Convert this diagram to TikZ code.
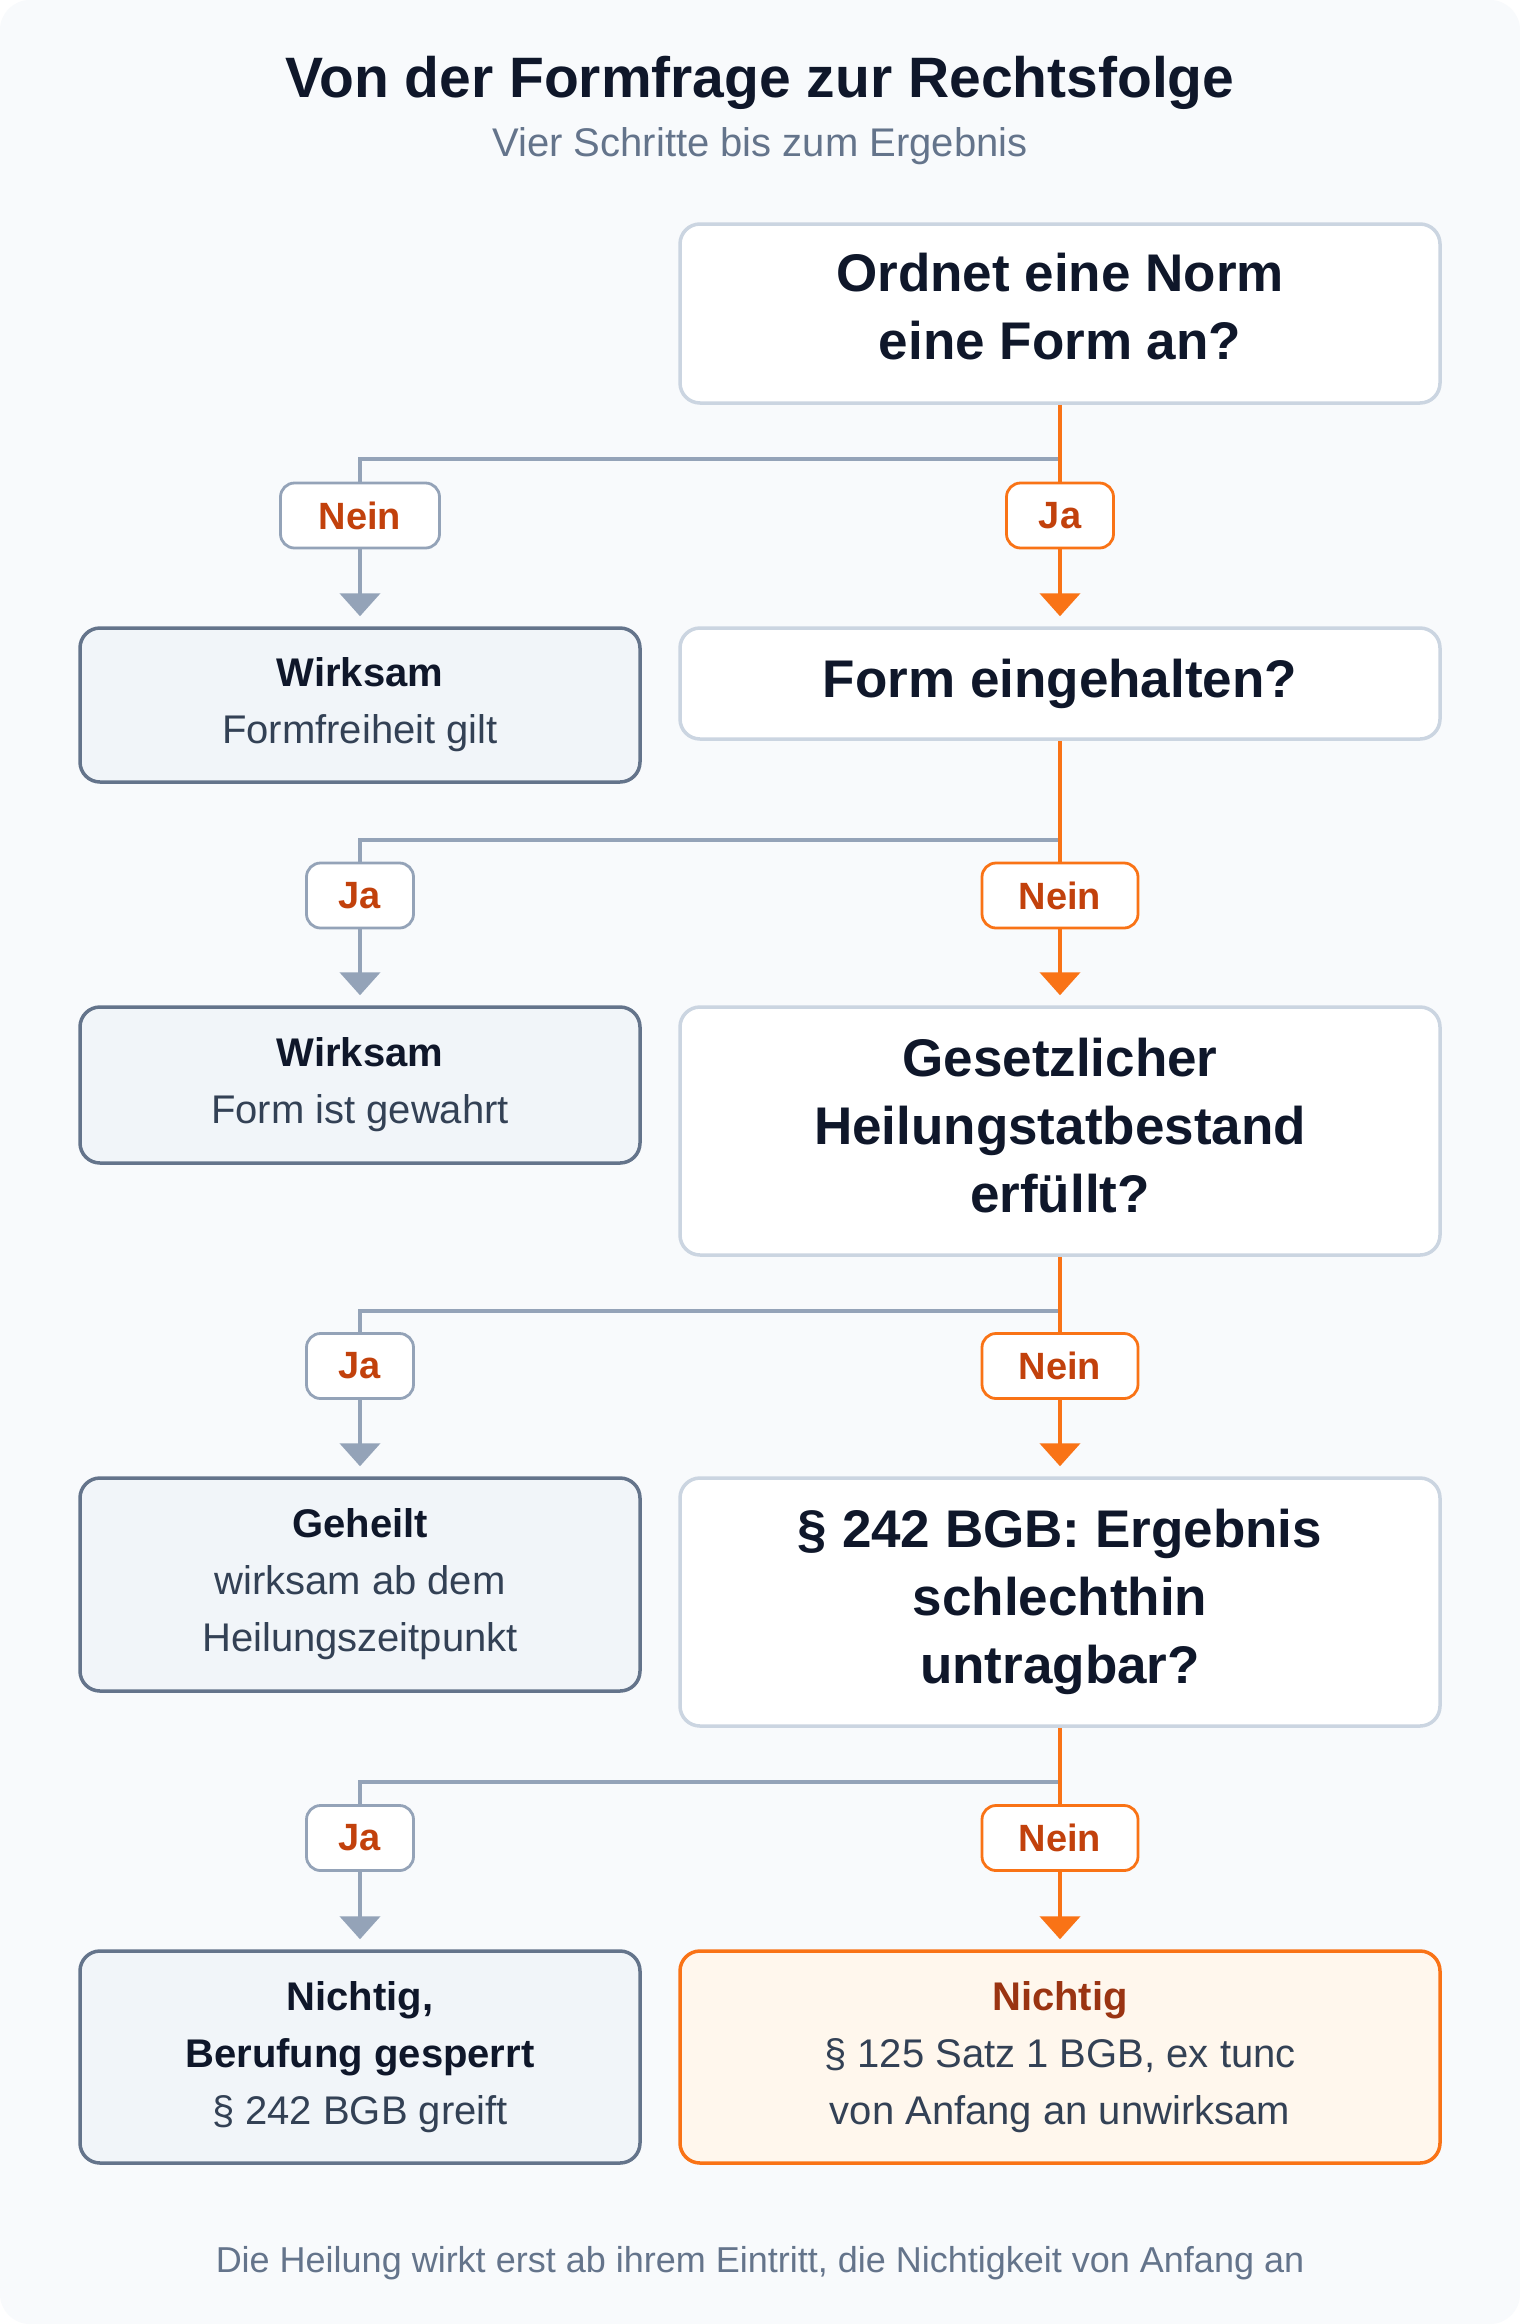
\documentclass[tikz,border=0pt]{standalone}
\usepackage{fontspec}
\setmainfont{Liberation Sans}
\usetikzlibrary{arrows.meta,calc}
\definecolor{bgc}{HTML}{F8FAFC}
\definecolor{ink}{HTML}{0F172A}
\definecolor{subc}{HTML}{334155}
\definecolor{mutec}{HTML}{64748B}
\definecolor{grayln}{HTML}{94A3B8}
\definecolor{orln}{HTML}{F97316}
\definecolor{lbltxt}{HTML}{C2410C}
\definecolor{qborder}{HTML}{CBD5E1}
\definecolor{rfill}{HTML}{F1F5F9}
\definecolor{rborder}{HTML}{64748B}
\definecolor{ofill}{HTML}{FFF7ED}
\definecolor{otitle}{HTML}{9A3412}
\newcommand{\liftq}[2]{\raisebox{#1}[\height][\depth]{\begin{tabular}{@{}c@{}}#2\end{tabular}}}
\tikzset{
  qbox/.style={draw=qborder, fill=white, line width=3.5pt, rounded corners=20pt,
    minimum width=760pt, align=center, text=ink,
    font=\fontsize{53}{68}\selectfont\bfseries, inner sep=0pt},
  rbox/.style={draw=rborder, fill=rfill, line width=3.5pt, rounded corners=20pt,
    minimum width=560pt, align=center, text=ink,
    font=\fontsize{40}{57}\selectfont, inner sep=0pt},
  obox/.style={draw=orln, fill=ofill, line width=3.5pt, rounded corners=20pt,
    minimum width=760pt, align=center, text=subc,
    font=\fontsize{40}{57}\selectfont, inner sep=0pt},
  lblg/.style={draw=grayln, fill=white, line width=2.8pt, rounded corners=14pt,
    minimum height=65pt, inner sep=0pt, text=lbltxt,
    font=\fontsize{38}{46}\selectfont\bfseries},
  lblo/.style={lblg, draw=orln},
  grayflow/.style={draw=grayln, line width=4.5pt, -{Triangle[width=40pt,length=23pt]}, shorten >=10pt},
  orflow/.style={draw=orln, line width=4.5pt, -{Triangle[width=40pt,length=23pt]}, shorten >=10pt},
}
\begin{document}
\begin{tikzpicture}[x=1pt,y=-1pt]
\fill[white] (0,0) rectangle (1520,2324);
\fill[bgc, rounded corners=30pt] (0,0) rectangle (1520,2324);
\useasboundingbox (0,0) rectangle (1520,2324);

% titles
\node[text=ink, font=\fontsize{57}{68}\selectfont\bfseries] (title) at (760,83) {Von der Formfrage zur Rechtsfolge};
\node[text=mutec, font=\fontsize{40}{48}\selectfont] (subtitle) at (760,146) {Vier Schritte bis zum Ergebnis};

% question boxes
\node[qbox, minimum height=179pt] (q1) at (1060,313.5) {\liftq{1.5pt}{Ordnet eine Norm\\eine Form an?}};
\node[qbox, minimum height=111pt] (q2) at (1060,683.5) {Form eingehalten?};
\node[qbox, minimum height=248pt] (q3) at (1060,1131) {\liftq{0pt}{Gesetzlicher\\Heilungstatbestand\\erfüllt?}};
\node[qbox, minimum height=248pt] (q4) at (1060,1602) {§ 242 BGB: Ergebnis\\schlechthin\\untragbar?};

% result boxes
\node[rbox, minimum height=154pt] (w1) at (360,705) {\textbf{Wirksam}\\\textcolor{subc}{Formfreiheit gilt}};
\node[rbox, minimum height=156pt] (w2) at (360,1085) {\textbf{Wirksam}\\\textcolor{subc}{Form ist gewahrt}};
\node[rbox, minimum height=213pt] (g) at (360,1584.5) {\textbf{Geheilt}\\\textcolor{subc}{wirksam ab dem}\\\textcolor{subc}{Heilungszeitpunkt}};
\node[rbox, minimum height=212pt] (n1) at (360,2057) {\textbf{Nichtig,}\\\textbf{Berufung gesperrt}\\\textcolor{subc}{§ 242 BGB greift}};
\node[obox, minimum height=212pt] (n2) at (1060,2057) {\textcolor{otitle}{\textbf{Nichtig}}\\§ 125 Satz 1 BGB, ex tunc\\von Anfang an unwirksam};

% branch points
\coordinate (b1) at (1060,459);
\coordinate (b2) at (1060,840);
\coordinate (b3) at (1060,1311);
\coordinate (b4) at (1060,1782);

% gray branches
\draw[grayflow] (b1) -| (w1.north);
\draw[grayflow] (b2) -| (w2.north);
\draw[grayflow] (b3) -| (g.north);
\draw[grayflow] (b4) -| (n1.north);

% orange main path
\draw[orflow] (q1.south) -- (q2.north);
\draw[orflow] (q2.south) -- (q3.north);
\draw[orflow] (q3.south) -- (q4.north);
\draw[orflow] (q4.south) -- (n2.north);

% labels
\node[lblg, minimum width=159pt] (l1n) at (360,515.5) {Nein};
\node[lblo, minimum width=107pt] (l1j) at (1060,515.5) {Ja};
\node[lblg, minimum width=107pt] (l2j) at (360,895.5) {Ja};
\node[lblo, minimum width=156pt] (l2n) at (1060,895.5) {Nein};
\node[lblg, minimum width=107pt] (l3j) at (360,1366) {Ja};
\node[lblo, minimum width=156pt] (l3n) at (1060,1366) {Nein};
\node[lblg, minimum width=107pt] (l4j) at (360,1838) {Ja};
\node[lblo, minimum width=156pt] (l4n) at (1060,1838) {Nein};

% footer
\node[text=mutec, font=\fontsize{36}{44}\selectfont] (footer) at (760,2263) {Die Heilung wirkt erst ab ihrem Eintritt, die Nichtigkeit von Anfang an};
\end{tikzpicture}
\end{document}
